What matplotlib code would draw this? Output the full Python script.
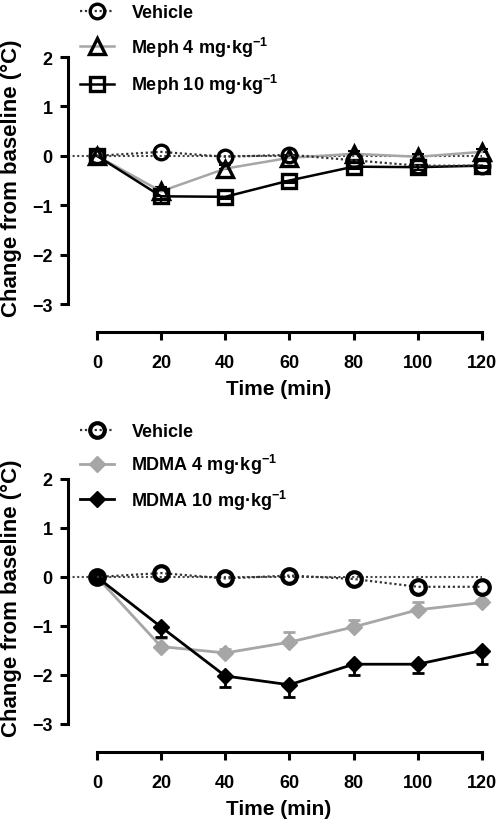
import numpy as np
import matplotlib.pyplot as plt
from matplotlib.lines import Line2D

plt.rcParams['font.family'] = ['Liberation Sans', 'DejaVu Sans']
plt.rcParams['font.weight'] = 'bold'
plt.rcParams['mathtext.fontset'] = 'custom'
plt.rcParams['mathtext.rm'] = 'Liberation Sans:bold'
plt.rcParams['mathtext.default'] = 'rm'

# data
time = [0, 20, 40, 60, 80, 100, 120]

veh_top = [0, 0.08, -0.02, 0.02, -0.09, -0.2, -0.2]
meph4 = [0, -0.72, -0.26, -0.04, 0.04, -0.02, 0.08]
meph4_err = [0, 0.08, 0.08, 0.06, 0.05, 0.05, 0.05]
meph10 = [0, -0.82, -0.83, -0.5, -0.22, -0.23, -0.2]
meph10_err = [0, 0.13, 0.05, 0.06, 0.05, 0.05, 0.05]

veh_bot = [0, 0.08, -0.03, 0.03, -0.04, -0.2, -0.2]
mdma4 = [0, -1.42, -1.55, -1.33, -1.02, -0.67, -0.52]
mdma4_err = [0, 0.18, 0.08, 0.21, 0.15, 0.15, 0.06]
mdma10 = [0, -1.02, -2.02, -2.2, -1.78, -1.78, -1.5]
mdma10_err = [0, 0.2, 0.22, 0.24, 0.22, 0.17, 0.28]

labels_top = ['Vehicle', 'Meph 4 mg·kg$^{-1}$', 'Meph 10 mg·kg$^{-1}$']
labels_bot = ['Vehicle', 'MDMA 4 mg·kg$^{-1}$', 'MDMA 10 mg·kg$^{-1}$']

GREY = '#a6a6a6'
XLO, XHI = -9, 122.5


def style_axes(ax):
    ax.set_xlim(XLO, XHI)
    ax.set_ylim(-3, 2)
    for s in ['top', 'right']:
        ax.spines[s].set_visible(False)
    ax.spines['left'].set_bounds(-3, 2)
    ax.spines['bottom'].set_position(('outward', 20))
    ax.spines['bottom'].set_bounds(0, 120)
    for s in ['left', 'bottom']:
        ax.spines[s].set_linewidth(2.2)
    ax.set_xticks(time)
    ax.set_yticks(np.arange(-3, 3))
    ax.tick_params(direction='out', length=6, width=2.2)
    ax.tick_params(axis='x', pad=10, labelsize=13)
    ax.tick_params(axis='y', pad=5, labelsize=13)
    ax.set_xlabel('Time (min)', fontsize=15, fontweight='bold', labelpad=6)
    ax.hlines(0, XLO, time[-1], colors='#444444', linestyles=(0, (1, 1.2)),
              linewidth=1.5, zorder=1)


def one_sided(err, up=True):
    z = np.zeros(len(err))
    return [z, err] if up else [err, z]


fig = plt.figure(figsize=(5, 8.28), dpi=100)
ax1 = fig.add_axes([68 / 500, 1 - 305 / 828, 422 / 500, 247 / 828])
ax2 = fig.add_axes([68 / 500, 1 - 725 / 828, 422 / 500, 245 / 828])

# top panel: mephedrone
ax1.errorbar(time, meph4, yerr=one_sided(meph4_err, True), fmt='none',
             ecolor='black', elinewidth=1.5, capsize=4, capthick=1.5, zorder=2)
ax1.errorbar(time, meph10, yerr=one_sided(meph10_err, False), fmt='none',
             ecolor='black', elinewidth=1.5, capsize=4, capthick=1.5, zorder=2)
l1, = ax1.plot(time, veh_top, linestyle=(0, (1, 1.2)), color='#333333', lw=1.6,
               marker='o', ms=10.5, mfc='none', mec='black', mew=2.4, zorder=4,
               clip_on=False)
l2, = ax1.plot(time, meph4, color=GREY, lw=1.8, marker='^', ms=11.5, mfc='none',
               mec='black', mew=2.4, zorder=3, clip_on=False)
l3, = ax1.plot(time, meph10, color='black', lw=1.8, marker='s', ms=10.5, mfc='none',
               mec='black', mew=2.4, zorder=3, clip_on=False)
style_axes(ax1)

h1 = Line2D([], [], linestyle=(0, (1, 1.2)), color='#333333', lw=1.6, marker='o',
            ms=10.5, mfc='none', mec='black', mew=2.4)
ax1.legend([h1, l2, l3], labels_top, loc='upper left',
           bbox_to_anchor=(80 / 500, 1 - 5 / 828), bbox_transform=fig.transFigure,
           frameon=False, borderpad=0, borderaxespad=0, handlelength=1.9,
           handletextpad=0.95, labelspacing=0.75, fontsize=13)

# bottom panel: MDMA
ax2.errorbar(time, mdma4, yerr=one_sided(mdma4_err, True), fmt='none',
             ecolor=GREY, elinewidth=2, capsize=4, capthick=2, zorder=2)
ax2.errorbar(time, mdma10, yerr=one_sided(mdma10_err, False), fmt='none',
             ecolor='black', elinewidth=2, capsize=4, capthick=2, zorder=2)
m2, = ax2.plot(time, mdma4, color=GREY, lw=2, marker='D', ms=8, mfc=GREY,
               mec=GREY, zorder=3, clip_on=False)
m3, = ax2.plot(time, mdma10, color='black', lw=2, marker='D', ms=8, mfc='black',
               mec='black', zorder=3, clip_on=False)
m1, = ax2.plot(time, veh_bot, linestyle=(0, (1, 1.2)), color='#333333', lw=1.6,
               marker='o', ms=10.5, mfc='none', mec='black', mew=3, zorder=4,
               clip_on=False)
style_axes(ax2)

h2 = Line2D([], [], linestyle=(0, (1, 1.2)), color='#333333', lw=1.6, marker='o',
            ms=10.5, mfc='none', mec='black', mew=3)
ax2.legend([h2, m2, m3], labels_bot, loc='upper left',
           bbox_to_anchor=(80 / 500, 1 - 424 / 828), bbox_transform=fig.transFigure,
           frameon=False, borderpad=0, borderaxespad=0, handlelength=1.9,
           handletextpad=0.95, labelspacing=0.65, fontsize=13)

# y labels
fig.text(11 / 500, 1 - 178 / 828, 'Change from baseline (°C)', rotation=90,
         ha='center', va='center', fontsize=16, fontweight='bold')
fig.text(11 / 500, 1 - 598 / 828, 'Change from baseline (°C)', rotation=90,
         ha='center', va='center', fontsize=16, fontweight='bold')

fig.savefig('out.png', dpi=100)
